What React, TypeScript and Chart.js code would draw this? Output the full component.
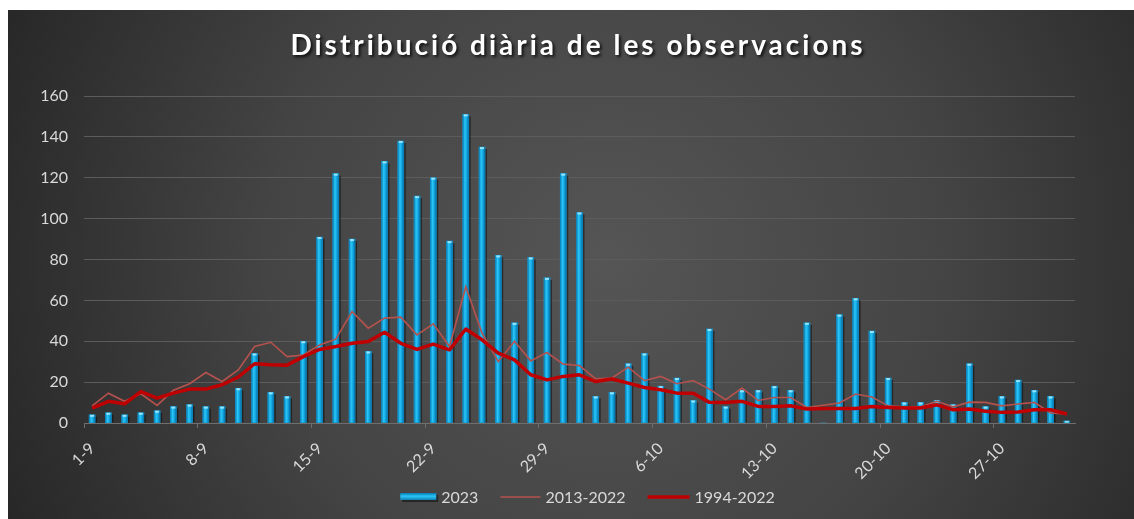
import React, { useEffect, useRef } from "react";
import { Chart, registerables } from "chart.js";

Chart.register(...registerables);

const chartTitle = "Distribució diària de les observacions";

const labels = [
  "1-9", "2-9", "3-9", "4-9", "5-9", "6-9", "7-9", "8-9", "9-9", "10-9",
  "11-9", "12-9", "13-9", "14-9", "15-9", "16-9", "17-9", "18-9", "19-9", "20-9",
  "21-9", "22-9", "23-9", "24-9", "25-9", "26-9", "27-9", "28-9", "29-9", "30-9",
  "1-10", "2-10", "3-10", "4-10", "5-10", "6-10", "7-10", "8-10", "9-10", "10-10",
  "11-10", "12-10", "13-10", "14-10", "15-10", "16-10", "17-10", "18-10", "19-10", "20-10",
  "21-10", "22-10", "23-10", "24-10", "25-10", "26-10", "27-10", "28-10", "29-10", "30-10",
  "31-10",
];

const obs2023 = [
  4, 5, 4, 5, 6, 8, 9, 8, 8, 17,
  34, 15, 13, 40, 91, 122, 90, 35, 128, 138,
  111, 120, 89, 151, 135, 82, 49, 81, 71, 122,
  103, 13, 15, 29, 34, 18, 22, 11, 46, 8,
  16, 16, 18, 16, 49, 0, 53, 61, 45, 22,
  10, 10, 11, 9, 29, 8, 13, 21, 16, 13,
  1,
];

const avg2013_2022 = [
  8.4, 14.6, 10.6, 14.3, 8.6, 16, 19.2, 24.7, 20.3, 26,
  37.4, 39.5, 32.5, 33.3, 38.2, 41, 54.5, 46.4, 51.3, 51.8,
  43.1, 48.5, 37.4, 66.7, 44, 30, 40, 30.4, 34.5, 28.8,
  28.1, 21.6, 22, 27.3, 20.7, 22.8, 19.2, 20.8, 16.6, 11.4,
  17.1, 11, 12.5, 12.5, 7.6, 8.7, 9.8, 14.2, 12.7, 8.4,
  7.9, 7.9, 10.6, 7.9, 10.2, 10.1, 8.4, 9.3, 10.1, 4.9,
  4.4,
];

const avg1994_2022 = [
  7.3, 10.6, 9.4, 15.4, 12.2, 14.6, 16.6, 16.6, 18.7, 22.5,
  29, 28.5, 28.3, 32.5, 36, 37.4, 39, 39.9, 44.4, 39,
  36, 38.6, 35.8, 46, 40.7, 34.2, 30.9, 23.6, 21.1, 22.8,
  23.6, 20.3, 21.5, 19.5, 17.4, 16.3, 14.6, 14.6, 10.1, 10,
  10.6, 8.1, 8.1, 8.4, 6.8, 7.1, 7.1, 7.1, 8.1, 7.6,
  7.3, 7.3, 8.9, 6.5, 6.8, 5.7, 5.2, 5.4, 6.5, 6.5,
  4.4,
];

const seriesNames = ["2023", "2013-2022", "1994-2022"];
const yMin = 0;
const yMax = 160;
const yStep = 20;
const labelEvery = 7;

const W = 1126;
const H = 509;
const FONT = "Lato, 'Open Sans', sans-serif";

const bgPlugin = {
  id: "bg",
  beforeDraw(chart: any) {
    const { ctx, width, height } = chart;
    const g = ctx.createRadialGradient(600, 250, 0, 600, 250, 680);
    g.addColorStop(0, "#555555");
    g.addColorStop(0.5, "#444444");
    g.addColorStop(1, "#252525");
    ctx.save();
    ctx.fillStyle = g;
    ctx.fillRect(0, 0, width, height);
    ctx.restore();
  },
};

const barStylePlugin = {
  id: "barStyle",
  beforeDatasetDraw(chart: any, args: any) {
    if (args.index !== 0) return;
    const ctx = chart.ctx;
    ctx.save();
    ctx.fillStyle = "rgba(0,0,0,0.45)";
    args.meta.data.forEach((el: any) => {
      const { x, y, base, width } = el.getProps(["x", "y", "base", "width"], true);
      const h = base - y;
      if (h < 0.5) return;
      ctx.fillRect(x - width / 2 + 2, y + 2, width, h - 2);
    });
    ctx.restore();
  },
  afterDatasetDraw(chart: any, args: any) {
    if (args.index !== 0) return;
    const ctx = chart.ctx;
    ctx.save();
    args.meta.data.forEach((el: any) => {
      const { x, y, base, width } = el.getProps(["x", "y", "base", "width"], true);
      const h = base - y;
      if (h < 0.5) return;
      const l = x - width / 2;
      const g = ctx.createLinearGradient(l, 0, l + width, 0);
      g.addColorStop(0, "#0479b3");
      g.addColorStop(0.35, "#2cc6f7");
      g.addColorStop(0.6, "#15aee8");
      g.addColorStop(1, "#056ea6");
      ctx.fillStyle = g;
      ctx.fillRect(l, y, width, h);
      ctx.fillStyle = "rgba(170,235,255,0.85)";
      ctx.fillRect(l + 1, y, width - 2, Math.min(2, h));
    });
    ctx.restore();
  },
};

const titleLegendPlugin = {
  id: "titleLegend",
  afterDraw(chart: any) {
    const { ctx, chartArea } = chart;
    ctx.save();
    // title
    ctx.font = `bold 28px ${FONT}`;
    (ctx as any).letterSpacing = "3px";
    ctx.textAlign = "center";
    ctx.textBaseline = "middle";
    ctx.shadowColor = "rgba(0,0,0,0.75)";
    ctx.shadowOffsetX = 2;
    ctx.shadowOffsetY = 2;
    ctx.shadowBlur = 3;
    ctx.fillStyle = "#ffffff";
    ctx.fillText(chartTitle, 570, 36);
    ctx.restore();

    // legend
    ctx.save();
    ctx.font = `16px ${FONT}`;
    ctx.textBaseline = "middle";
    ctx.textAlign = "left";
    const symW = [36, 40, 42];
    const gap = 5;
    const itemGap = 22;
    const widths = seriesNames.map((n, i) => symW[i] + gap + ctx.measureText(n).width);
    const total = widths.reduce((a, b) => a + b, 0) + itemGap * (seriesNames.length - 1);
    let cx = (chartArea.left + chartArea.right) / 2 + 8 - total / 2;
    const cy = 487;
    seriesNames.forEach((n, i) => {
      if (i === 0) {
        const g = ctx.createLinearGradient(0, cy - 4, 0, cy + 4);
        g.addColorStop(0, "#0479b3");
        g.addColorStop(0.4, "#2cc6f7");
        g.addColorStop(1, "#056ea6");
        ctx.fillStyle = "rgba(0,0,0,0.45)";
        ctx.fillRect(cx + 2, cy - 2, symW[i], 7);
        ctx.fillStyle = g;
        ctx.fillRect(cx, cy - 4, symW[i], 7);
      } else {
        ctx.strokeStyle = i === 1 ? "#b5524e" : "#c00000";
        ctx.lineWidth = i === 1 ? 1.6 : 3.5;
        ctx.beginPath();
        ctx.moveTo(cx, cy);
        ctx.lineTo(cx + symW[i], cy);
        ctx.stroke();
      }
      ctx.fillStyle = "#d9d9d9";
      ctx.fillText(n, cx + symW[i] + gap, cy + 1);
      cx += widths[i] + itemGap;
    });
    ctx.restore();
  },
};

export default function App() {
  const ref = useRef<HTMLCanvasElement | null>(null);

  useEffect(() => {
    if (!ref.current) return;
    const chart = new Chart(ref.current, {
      type: "bar",
      data: {
        labels,
        datasets: [
          {
            type: "bar",
            label: seriesNames[0],
            data: obs2023,
            backgroundColor: "#12a8e4",
            barThickness: 6,
            order: 3,
          } as any,
          {
            type: "line",
            label: seriesNames[1],
            data: avg2013_2022,
            borderColor: "#b5524e",
            borderWidth: 1.6,
            pointRadius: 0,
            tension: 0,
            order: 2,
          } as any,
          {
            type: "line",
            label: seriesNames[2],
            data: avg1994_2022,
            borderColor: "#c00000",
            borderWidth: 3.5,
            pointRadius: 0,
            tension: 0,
            borderJoinStyle: "round",
            order: 1,
          } as any,
        ],
      },
      options: {
        responsive: false,
        animation: false,
        devicePixelRatio: 1,
        layout: { padding: { top: 86, right: 59, left: 0, bottom: 0 } },
        plugins: {
          legend: { display: false },
          title: { display: false },
          tooltip: { enabled: false },
        },
        scales: {
          x: {
            grid: {
              display: true,
              drawOnChartArea: false,
              drawTicks: true,
              tickLength: 5,
              offset: true,
              color: (c: any) => (c.index % labelEvery === 0 ? "#6e6e6e" : "rgba(0,0,0,0)"),
            },
            border: { display: true, color: "#6e6e6e", width: 1 },
            ticks: {
              autoSkip: false,
              minRotation: 45,
              maxRotation: 45,
              color: "#d9d9d9",
              font: { family: FONT, size: 16 },
              padding: 11,
              callback: (_v: any, i: number) => (i % labelEvery === 0 ? labels[i] : ""),
            },
            afterFit: (s: any) => {
              s.height = 96;
            },
          },
          y: {
            min: yMin,
            max: yMax,
            ticks: {
              stepSize: yStep,
              color: "#d9d9d9",
              font: { family: FONT, size: 16 },
              padding: 16,
            },
            grid: { color: "#5c5c5c", lineWidth: 1, drawTicks: false },
            border: { display: false },
            afterFit: (s: any) => {
              s.width = 76;
            },
          },
        },
      } as any,
      plugins: [bgPlugin, barStylePlugin, titleLegendPlugin],
    });
    return () => chart.destroy();
  }, []);

  return (
    <div style={{ position: "absolute", left: 8, top: 10, width: W, height: H }}>
      <canvas ref={ref} width={W} height={H} style={{ width: W, height: H, display: "block" }} />
    </div>
  );
}
